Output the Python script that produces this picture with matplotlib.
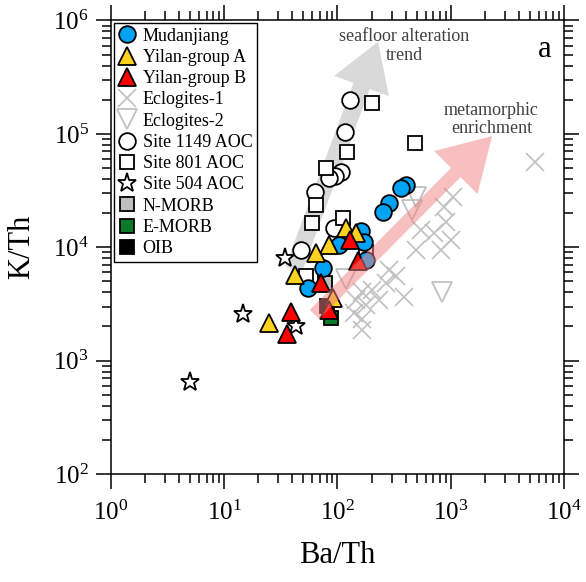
import matplotlib
matplotlib.use('Agg')
import matplotlib.pyplot as plt
from matplotlib.ticker import LogLocator, NullFormatter
from matplotlib.patches import ArrowStyle

plt.rcParams['font.family'] = ['Liberation Serif', 'DejaVu Serif']
plt.rcParams['mathtext.fontset'] = 'stix'

# ---------------- data (Ba/Th, K/Th) ----------------
mud_ba = [403, 364, 287, 251, 162, 104, 170, 179, 74, 55]
mud_k = [35400, 33100, 24600, 20600, 13800, 10500, 11200, 7760, 6560, 4380]

yla_ba = [119, 146, 85, 65, 42, 91, 25]
yla_k = [14800, 13300, 10500, 8890, 5730, 3570, 2160]

ylb_ba = [128, 151, 72, 85, 39, 36]
ylb_k = [11600, 7600, 4840, 2820, 2710, 1700]

ecl1_ba = [5550, 1052, 912, 1010, 550, 716, 497, 824, 331, 270, 389, 234, 287,
           203, 163, 147, 180, 166, 141, 166, 877]
ecl1_k = [56500, 27800, 16700, 11600, 14300, 13400, 9510, 9510, 5610, 4870, 3670,
          3450, 6340, 4230, 4060, 3450, 3120, 2310, 2650, 1880, 22700]

ecl2_ba = [497, 458, 841, 120]
ecl2_k = [27800, 21400, 4060, 5290]

s1149_ba = [130, 117, 108, 96, 85, 63, 94, 48]
s1149_k = [198000, 104000, 46300, 42500, 40500, 31000, 14800, 9500]

s801_ba = [202, 122, 487, 79.5, 65, 59, 113, 180, 53]
s801_k = [187000, 69500, 82400, 49600, 23700, 16300, 18100, 9130, 5530]

s504_ba = [5, 14.6, 42.7, 34.1]
s504_k = [644, 2600, 2000, 8090]

nmorb_ba, nmorb_k = [77], [4880]
emorb_ba, emorb_k = [88.5], [2400]
oib_ba, oib_k = [80], [3060]

# trend arrows (tail, tip) in data units
sea_tail, sea_tip = (41, 6400), (228, 650000)
met_tail, met_tip = (62.7, 2550), (2320, 95500)

# ---------------- figure ----------------
fig = plt.figure(figsize=(5.86, 5.82), dpi=100)
ax = fig.add_axes([0.1894, 0.1856, 0.773, 0.7792])
ax.set_xscale('log')
ax.set_yscale('log')
ax.set_xlim(1, 1e4)
ax.set_ylim(1e2, 1e6)

# seafloor alteration arrow (behind symbols)
ax.annotate('', xy=sea_tip, xytext=sea_tail, xycoords='data',
            arrowprops=dict(arrowstyle=ArrowStyle.Simple(head_length=34, head_width=42, tail_width=12.5),
                            mutation_scale=1, shrinkA=0, shrinkB=0,
                            fc='#d9d9d9', ec='none'), zorder=1)

mew = 1.3
h_e1, = ax.plot(ecl1_ba, ecl1_k, ls='none', marker='x', ms=13.5, mew=1.2, color='#c0c0c0', zorder=2)
h_e2, = ax.plot(ecl2_ba, ecl2_k, ls='none', marker='v', ms=14, mew=1.3, mfc='none', mec='#c0c0c0', zorder=2)
h_1149, = ax.plot(s1149_ba, s1149_k, ls='none', marker='o', ms=12, mew=mew, mfc='white', mec='black', zorder=3)
h_801, = ax.plot(s801_ba, s801_k, ls='none', marker='s', ms=10.5, mew=mew, mfc='white', mec='black', zorder=3)
h_504, = ax.plot(s504_ba, s504_k, ls='none', marker='*', ms=14, mew=mew, mfc='white', mec='black', zorder=3)
h_nm, = ax.plot(nmorb_ba, nmorb_k, ls='none', marker='s', ms=10.5, mew=mew, mfc='#c0c0c0', mec='black', zorder=4)
h_em, = ax.plot(emorb_ba, emorb_k, ls='none', marker='s', ms=10.5, mew=mew, mfc='#0b7a2b', mec='black', zorder=4)
h_oib, = ax.plot(oib_ba, oib_k, ls='none', marker='s', ms=10.5, mew=mew, mfc='black', mec='black', zorder=4)
h_mud, = ax.plot(mud_ba, mud_k, ls='none', marker='o', ms=12, mew=mew, mfc='#00a2f3', mec='black', zorder=5)
h_yla, = ax.plot(yla_ba, yla_k, ls='none', marker='^', ms=13, mew=mew, mfc='#ffd21f', mec='black', zorder=6)
h_ylb, = ax.plot(ylb_ba, ylb_k, ls='none', marker='^', ms=13, mew=mew, mfc='#ff0000', mec='black', zorder=7)

# metamorphic enrichment arrow (translucent, above symbols)
ax.annotate('', xy=met_tip, xytext=met_tail, xycoords='data',
            arrowprops=dict(arrowstyle=ArrowStyle.Simple(head_length=37, head_width=44, tail_width=9.5),
                            mutation_scale=1, shrinkA=0, shrinkB=0,
                            fc='#f08080', ec='none', alpha=0.5), zorder=8)

ax.text(0.647, 0.944, 'seafloor alteration\ntrend', transform=ax.transAxes, ha='center', va='center',
        multialignment='center', fontsize=13, color='#404040', linespacing=1.1, zorder=9)
ax.text(0.840, 0.782, 'metamorphic\nenrichment', transform=ax.transAxes, ha='center', va='center',
        multialignment='center', fontsize=13, color='#404040', linespacing=1.1, zorder=9)
ax.text(0.958, 0.935, 'a', transform=ax.transAxes, ha='center', va='center', fontsize=22, zorder=9)

# axes styling
for sp in ax.spines.values():
    sp.set_linewidth(1.1)
ax.xaxis.set_major_locator(LogLocator(base=10, numticks=10))
ax.yaxis.set_major_locator(LogLocator(base=10, numticks=10))
ax.xaxis.set_minor_locator(LogLocator(base=10, subs=range(2, 10), numticks=20))
ax.yaxis.set_minor_locator(LogLocator(base=10, subs=range(2, 10), numticks=20))
ax.xaxis.set_minor_formatter(NullFormatter())
ax.yaxis.set_minor_formatter(NullFormatter())
ax.tick_params(which='both', direction='out', top=True, right=True, width=1.1, labelsize=18)
ax.tick_params(which='major', length=11)
ax.tick_params(which='minor', length=6.5)
ax.tick_params(axis='x', which='major', pad=8)
ax.tick_params(axis='y', which='major', pad=5)

ax.set_xlabel('Ba/Th', fontsize=22, labelpad=12)
ax.set_ylabel('K/Th', fontsize=22, labelpad=12)

handles = [h_mud, h_yla, h_ylb, h_e1, h_e2, h_1149, h_801, h_504, h_nm, h_em, h_oib]
labels = ['Mudanjiang', 'Yilan-group A', 'Yilan-group B', 'Eclogites-1', 'Eclogites-2',
          'Site 1149 AOC', 'Site 801 AOC', 'Site 504 AOC', 'N-MORB', 'E-MORB', 'OIB']
leg = ax.legend(handles, labels, loc='upper left', fontsize=13, frameon=True, fancybox=False,
                edgecolor='black', framealpha=1, borderpad=0.25, labelspacing=0.235,
                handlelength=1.0, handletextpad=0.35, borderaxespad=0.15, numpoints=1)
leg.get_frame().set_linewidth(1.0)
leg.set_zorder(10)

fig.savefig('out.png', dpi=100)
